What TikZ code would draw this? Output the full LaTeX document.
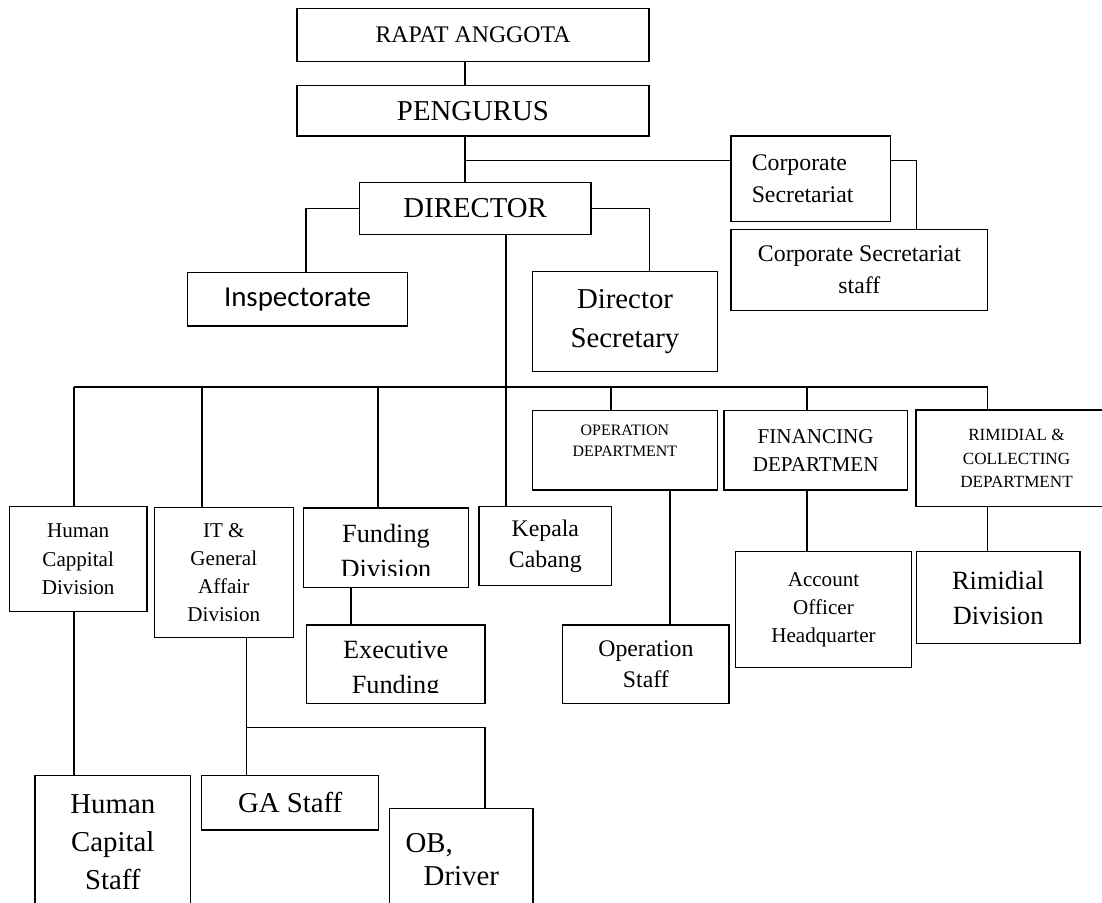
\documentclass[tikz,border=0pt]{standalone}
\usepackage{fontspec}
\setmainfont{Liberation Serif}
\newfontfamily\calibrifont{Carlito}

\begin{document}
\begin{tikzpicture}[x=1pt,y=-1pt,
  box/.style={draw,line width=1.3pt,inner sep=0pt,align=center},
  link/.style={draw,line width=1.1pt},
  txt29/.style={font=\fontsize{28.8}{38.3}\selectfont},
  txt26/.style={font=\fontsize{26.3}{35}\selectfont},
  txt24/.style={font=\fontsize{23.8}{31.7}\selectfont},
  txt21/.style={font=\fontsize{21.1}{28.2}\selectfont},
  txt17/.style={font=\fontsize{17.1}{23.5}\selectfont},
  txt16/.style={font=\fontsize{15.9}{20.8}\selectfont}]
  \useasboundingbox (0,0) rectangle (1102,902);
  \clip (0,0) rectangle (1102,902);

  % board and director
  \node[box,txt24,minimum width=352,minimum height=53.4] (rapat) at (473,35) {RAPAT ANGGOTA};
  \node[box,txt29,minimum width=352,minimum height=50.3] (peng) at (473,110.9) {PENGURUS};
  \node[box,txt29,minimum width=231.7,minimum height=51.6] (dir) at (475.2,208.5) {DIRECTOR};
  \node[box,txt24,align=left,text width=117.9pt,inner xsep=20.7pt,minimum height=85.7] (cs) at (810.7,178.9) {Corporate\\Secretariat};
  \node[box,txt24,minimum width=256.7,minimum height=81.4] (css) at (859.4,270) {Corporate Secretariat\\staff};
  \node[box,font=\calibrifont\fontsize{28.9}{35}\selectfont,minimum width=220.4,minimum height=53.3] (insp) at (297.5,299.4) {Inspectorate};
  \node[box,txt29,minimum width=184.6,minimum height=100] (dsec) at (625,321.7) {Director\\Secretary};

  % departments
  \node[box,minimum width=184.5,minimum height=79.3] (op) at (624.9,450.4) {};
  \node[txt16,inner sep=0pt,align=center] (op-t) at (624.9,441) {OPERATION\\DEPARTMENT};
  \node[box,txt21,minimum width=183.7,minimum height=79.3] (fin) at (815.7,450.4) {FINANCING\\DEPARTMEN};
  \node[box,txt17,minimum width=201,minimum height=96.7] (rim) at (1016.5,458.4) {RIMIDIAL \&\\COLLECTING\\DEPARTMENT};

  % divisions
  \node[box,txt21,minimum width=137.8,minimum height=105] (hcd) at (78.2,559.2) {Human\\Cappital\\Division};
  \node[box,txt21,minimum width=138.9,minimum height=129.6] (it) at (223.8,572.5) {IT \&\\General\\Affair\\Division};
  \node[box,minimum width=164.5,minimum height=79.5] (fund) at (386,547.8) {};
  \node[box,txt24,minimum width=132.5,minimum height=79] (kep) at (545.3,546.2) {Kepala\\Cabang};
  \node[box,minimum width=178.8,minimum height=78.3] (exec) at (395.6,664.2) {};
  \node[box,txt24,minimum width=166.3,minimum height=78.3] (ops) at (645.9,664.2) {Operation\\Staff};
  \node[box,txt21,minimum width=176.3,minimum height=116] (ao) at (823.5,609.7) {Account\\Officer\\Headquarter};
  \node[box,txt26,minimum width=163.6,minimum height=92] (rd) at (998.2,597.7) {Rimidial\\Division};

  % staff
  \node[box,txt29,minimum width=155.5,minimum height=132.6] (hcs) at (112.8,842) {Human\\Capital\\Staff};
  \node[box,txt29,minimum width=176.8,minimum height=54.3] (ga) at (290.2,802.9) {GA Staff};
  \node[box,font=\fontsize{28.8}{33.5}\selectfont,minimum width=143.5,minimum height=101.6] (ob) at (461.3,859.5) {OB,\hspace*{64pt}\\Driver};

  % text cut off by its box
  \begin{scope}
    \clip (fund.north west) rectangle ([yshift=12.5pt]fund.south east);
    \node[txt26,inner sep=0pt,align=center] (fund-t) at (386,551) {Funding\\Division};
  \end{scope}
  \begin{scope}
    \clip (exec.north west) rectangle ([yshift=11.6pt]exec.south east);
    \node[txt26,inner sep=0pt,align=center] (exec-t) at (395.6,670) {Executive\\Funding};
  \end{scope}

  % connectors
  \draw[link] ([xshift=-8pt]rapat.south) -- ([xshift=-8pt]peng.north);
  \draw[link] ([xshift=-8pt]peng.south) coordinate (pd) -- (pd |- dir.north);
  \draw[link] ([yshift=18.6pt]cs.west) coordinate (csw) -- (csw -| pd);
  \draw[link] ([yshift=18.6pt]cs.east) -| ([xshift=57pt]css.north);
  \draw[link] (dir.west) -| ([xshift=8.5pt]insp.north);
  \draw[link] (dir.east) -| ([xshift=24.3pt]dsec.north);
  \draw[link] ([xshift=30.8pt]dir.south) coordinate (dd) -- (dd |- kep.north);
  \coordinate (busl) at (74,387);
  \coordinate (busr) at (987.7,387);
  \draw[link] (busl) -- (busr);
  \foreach \n/\x in {hcd/74,it/202,fund/378,op/611,fin/807,rim/987.7}
    \draw[link] (\x,387) -- (\n.north -| \x,387);
  \draw[link] ([xshift=-4.2pt]hcd.south) coordinate (hd) -- (hd |- hcs.north);
  \draw[link] ([xshift=22.6pt]it.south) coordinate (itd) -- (itd |- ga.north);
  \draw[link] (itd |- 0,727.3) -| ([xshift=23.7pt]ob.north);
  \draw[link] ([xshift=-35pt]fund.south) coordinate (fd) -- (fd |- exec.north);
  \draw[link] ([xshift=45.1pt]op.south) coordinate (od) -- (od |- ops.north);
  \draw[link] ([xshift=-8.7pt]fin.south) coordinate (fnd) -- (fnd |- ao.north);
  \draw[link] ([xshift=-28.8pt]rim.south) coordinate (rmd) -- (rmd |- rd.north);
\end{tikzpicture}
\end{document}
